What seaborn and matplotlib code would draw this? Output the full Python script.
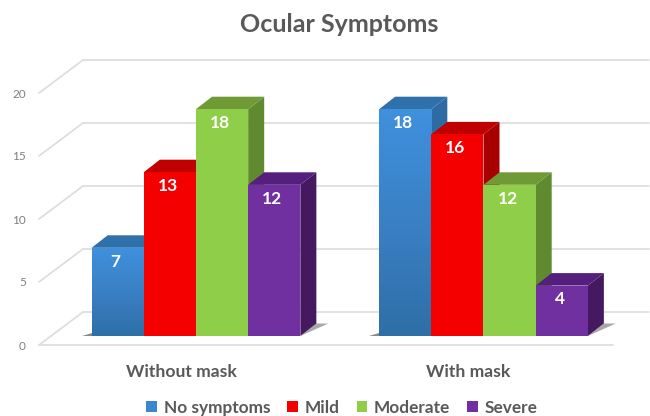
import numpy as np
import pandas as pd
import matplotlib
matplotlib.use('Agg')
import matplotlib.pyplot as plt
import seaborn as sns
from matplotlib.colors import LinearSegmentedColormap
from matplotlib.patches import Polygon
from matplotlib.transforms import ScaledTranslation

# Data
groups = ['Without mask', 'With mask']
severity = ['No symptoms', 'Mild', 'Moderate', 'Severe']
without_mask = [7, 13, 18, 12]
with_mask = [18, 16, 12, 4]
y_ticks = [0, 5, 10, 15, 20]

front_colors = ['#3a86cf', '#f50000', '#8fce48', '#7030a0']
side_colors = ['#2f6ba3', '#a80000', '#5f8a2f', '#45195f']
top_colors = ['#2f71ab', '#c00000', '#6f9a36', '#551f7d']
gray_text = '#595959'
grid_color = '#dcdcdc'

W, H = 650, 416
sns.set_style('white')
plt.rcParams['font.family'] = ['Lato', 'DejaVu Sans']

df = pd.DataFrame({
    'group': np.repeat(groups, len(severity)),
    'severity': severity * len(groups),
    'count': without_mask + with_mask,
})

fig = plt.figure(figsize=(W / 100, H / 100), dpi=100)
ax_left = 30
ax = fig.add_axes([ax_left / W, 0, 1 - ax_left / W, 1])

sns.barplot(data=df, x='group', y='count', hue='severity', hue_order=severity,
            palette=dict(zip(severity, front_colors)), saturation=1,
            width=0.726, gap=0, linewidth=0, ax=ax)

# pixel scale of the chart: category centres 196 and 483.5, value 0 at 336
px_x = 287.5
px_y = 12.6
ax.set_xlim((ax_left - 196) / px_x, (W - 196) / px_x)
ax.set_ylim(-(H - 336) / px_y, 336 / px_y)
xlim, ylim = ax.get_xlim(), ax.get_ylim()

depth_x = 16 / px_x
depth_y = 12.5 / px_y
back_off = 24 / px_y
front_off = -9 / px_y


def x_of(px):
    return (px - 196) / px_x


# floor and back wall
for v in y_ticks:
    yb = v + back_off
    yf = v + front_off
    ax.plot([x_of(83), x_of(649)], [yb, yb], color=grid_color, lw=1.2, zorder=1, clip_on=False)
    ax.plot([x_of(39), x_of(83)], [yf, yb], color=grid_color, lw=1.2, zorder=1, clip_on=False)
ax.plot([x_of(39), x_of(613)], [front_off, front_off], color=grid_color, lw=1.2, zorder=1)

blue_map = LinearSegmentedColormap.from_list('blue_bar', ['#3f90dd', '#3a80c4', '#2f6fa8'])

# extruded sides and tops, drawn left to right so later bars cover earlier ones
for h, container in enumerate(ax.containers):
    for bar in container:
        x0, x1 = bar.get_x(), bar.get_x() + bar.get_width()
        top = bar.get_height()
        side = [(x1, 0), (x1 + depth_x, depth_y), (x1 + depth_x, top + depth_y), (x1, top)]
        lid = [(x0, top), (x0 + depth_x, top + depth_y), (x1 + depth_x, top + depth_y), (x1, top)]
        ax.add_patch(Polygon(side, closed=True, fc=side_colors[h], ec='none', zorder=3 + 2 * h))
        ax.add_patch(Polygon(lid, closed=True, fc=top_colors[h], ec='none', zorder=3 + 2 * h))
        bar.set_zorder(4 + 2 * h)
        if h == 0:
            img = ax.imshow(np.linspace(0, 1, 64).reshape(-1, 1), cmap=blue_map, aspect='auto',
                            extent=(x0, x1, 0, top), zorder=4.5)
            img.set_clip_path(bar)
        ax.annotate(f'{top:.0f}', (bar.get_x() + bar.get_width() / 2, top), xytext=(-1.5, -10),
                    textcoords='offset points', ha='center', va='center', color='white',
                    fontsize=12.5, fontweight='bold', zorder=20)

# soft floor shadows either side of the two clusters
for c in [0, 1]:
    first = ax.containers[0][c]
    last = ax.containers[-1][c]
    xl = first.get_x()
    xr = last.get_x() + last.get_width()
    ax.add_patch(Polygon([(xl - 10 / px_x, 0), (xl, 0), (xl, 3 / px_y)], closed=True,
                         fc='#8a8a8a', ec='none', zorder=2))
    ax.add_patch(Polygon([(xr, 0), (xr + 28 / px_x, depth_y), (xr + depth_x, depth_y)], closed=True,
                         fc='#a8a8a8', ec='none', zorder=2))

ax.set_xlim(xlim)
ax.set_ylim(ylim)

sns.despine(ax=ax, left=True, bottom=True)
ax.set_xlabel('')
ax.set_ylabel('')
ax.grid(False)
ax.patch.set_alpha(0)

ax.set_yticks(y_ticks)
ax.tick_params(axis='y', length=0, pad=3, labelsize=8.5, labelcolor='#7f7f7f')
ax.tick_params(axis='x', length=0, pad=0, labelsize=12.6, labelcolor=gray_text)

# labels sit on the floor front edge, not on the bars
y_shift = ScaledTranslation(0, -9 / 100, fig.dpi_scale_trans)
x_shift = ScaledTranslation(-15 / 100, 0, fig.dpi_scale_trans)
for lab in ax.get_yticklabels():
    lab.set_transform(lab.get_transform() + y_shift)
ax.set_xticks([0, 1])
ax.set_xticklabels(groups, fontweight='bold')
for lab in ax.get_xticklabels():
    lab.set_transform(ax.get_xaxis_transform() + x_shift)
    lab.set_y(1 - 372 / H)
    lab.set_va('center')

fig.text(339.5 / W, 1 - 25 / H, 'Ocular Symptoms', ha='center', va='center', fontsize=18,
         fontweight='bold', color=gray_text)

sns.move_legend(ax, 'center', bbox_to_anchor=(342 / W, 1 - 408 / H), bbox_transform=fig.transFigure,
                ncol=4, frameon=False, title=None, handlelength=0.6, handleheight=0.6,
                handletextpad=0.4, columnspacing=1.0, borderpad=0,
                labelcolor=gray_text, prop={'weight': 'bold', 'size': 12.4})

fig.savefig('out.png', dpi=100)
